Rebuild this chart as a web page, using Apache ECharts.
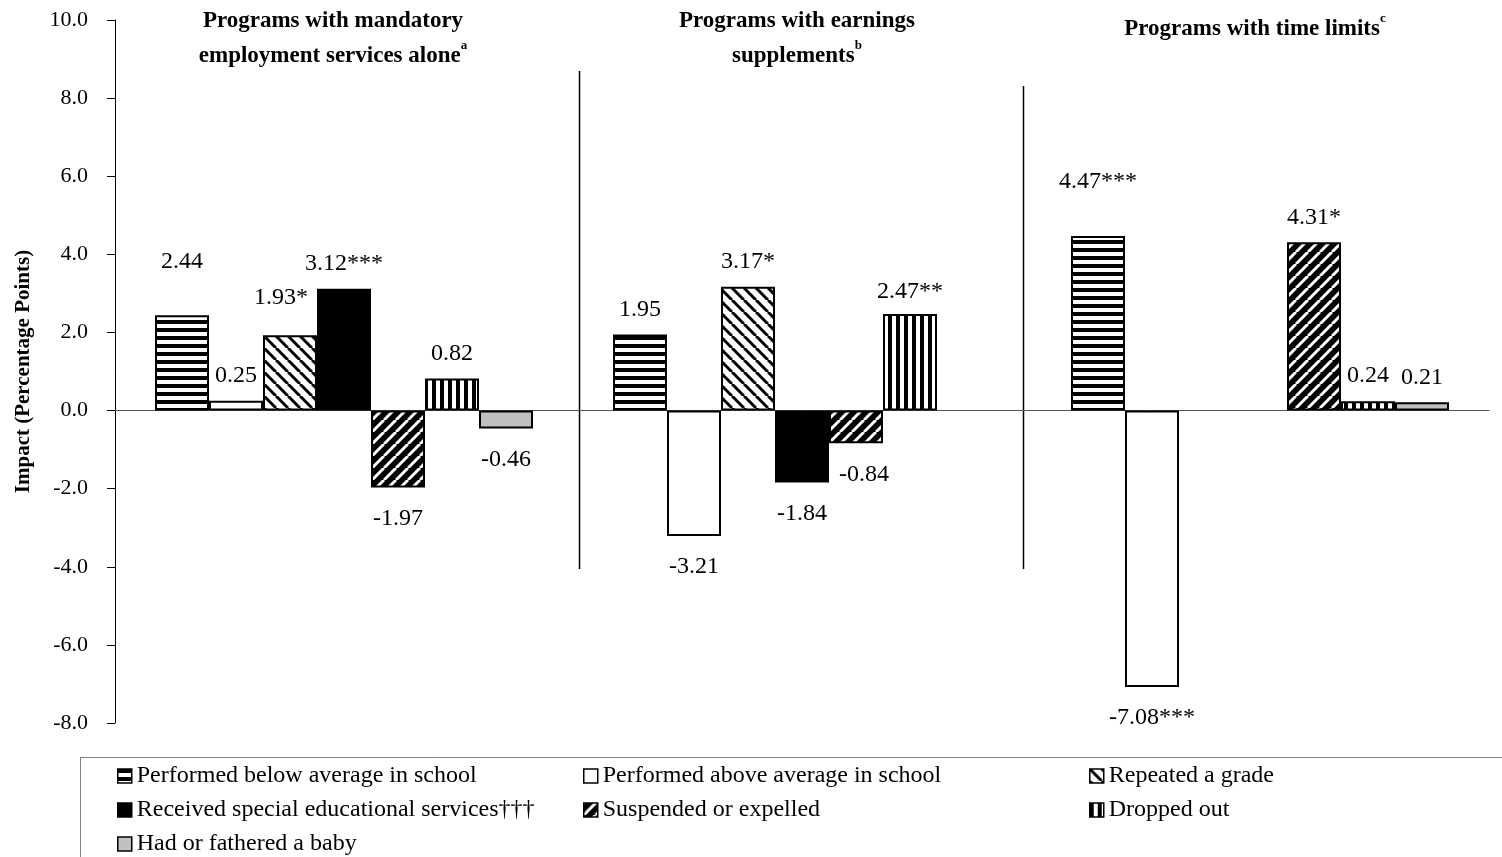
<!DOCTYPE html>
<html>
<head>
<meta charset="utf-8">
<script src="https://cdn.jsdelivr.net/npm/echarts@6/dist/echarts.min.js"></script>
<style>
html,body{margin:0;padding:0;background:#fff;}
#chart{width:1502px;height:857px;}
</style>
</head>
<body>
<div id="chart"></div>
<script>
// ---- data ----
const groups = ['Mandatory employment services alone', 'Earnings supplements', 'Time limits'];
const seriesNames = [
  'Performed below average in school',
  'Performed above average in school',
  'Repeated a grade',
  'Received special educational services\u2020\u2020\u2020',
  'Suspended or expelled',
  'Dropped out',
  'Had or fathered a baby'
];
const belowAvg   = [2.44, 1.95, 4.47];
const aboveAvg   = [0.25, -3.21, -7.08];
const repeated   = [1.93, 3.17, null];
const special    = [3.12, -1.84, null];
const suspended  = [-1.97, -0.84, 4.31];
const droppedOut = [0.82, 2.47, 0.24];
const baby       = [-0.46, null, 0.21];

const belowSig     = ['', '', '***'];
const aboveSig     = ['', '', '***'];
const repeatedSig  = ['*', '*', ''];
const specialSig   = ['***', '', ''];
const suspendedSig = ['', '', '*'];
const droppedSig   = ['', '**', ''];
const babySig      = ['', '', ''];

const yTicks = [-8, -6, -4, -2, 0, 2, 4, 6, 8, 10];

// ---- patterns ----
function mk(w, h, draw) {
  const c = document.createElement('canvas');
  c.width = w; c.height = h;
  const g = c.getContext('2d');
  draw(g, w, h);
  return {image: c, repeat: 'repeat'};
}
const pHoriz = mk(8, 8, (g) => { g.fillStyle = '#fff'; g.fillRect(0,0,8,8); g.fillStyle = '#000'; g.fillRect(0,0,8,4); });
const pVert = mk(8, 8, (g) => { g.fillStyle = '#fff'; g.fillRect(0,0,8,8); g.fillStyle = '#000'; g.fillRect(0,0,4,8); });
const pBack = mk(12, 12, (g) => {
  g.fillStyle = '#fff'; g.fillRect(0,0,12,12);
  g.strokeStyle = '#000'; g.lineWidth = 3;
  for (let o = -12; o <= 12; o += 12) { g.beginPath(); g.moveTo(o, 0); g.lineTo(o + 12, 12); g.stroke(); }
});
const pFwd = mk(12, 12, (g) => {
  g.fillStyle = '#000'; g.fillRect(0,0,12,12);
  g.strokeStyle = '#fff'; g.lineWidth = 3;
  for (let o = -12; o <= 12; o += 12) { g.beginPath(); g.moveTo(o, 12); g.lineTo(o + 12, 0); g.stroke(); }
});
const fills = [pHoriz, '#ffffff', pBack, '#000000', pFwd, pVert, '#c0c0c0'];
const values = [belowAvg, aboveAvg, repeated, special, suspended, droppedOut, baby];
const sigs = [belowSig, aboveSig, repeatedSig, specialSig, suspendedSig, droppedSig, babySig];

// label placement tweaks (distance from bar end), keyed "series-group"
const labelDist = {'0-0': 42, '2-0': 25, '0-2': 42, '5-1': 10};
const labelOffset = {'4-1': [8, 0], '2-0': [-9, 0]};

const FONT = '"Times New Roman", "Liberation Serif", serif';

const series = values.map((arr, si) => ({
  name: seriesNames[si],
  type: 'bar',
  barWidth: 54,
  barGap: '0%',
  itemStyle: {color: fills[si], borderColor: '#000', borderWidth: 2},
  emphasis: {disabled: true},
  data: arr.map((v, gi) => {
    if (v === null) return null;
    const key = si + '-' + gi;
    return {
      value: v,
      label: {
        show: true,
        position: v >= 0 ? 'top' : 'bottom',
        distance: labelDist[key] !== undefined ? labelDist[key] : (v >= 0 ? 13 : 19),
        offset: labelOffset[key] || [0, 0],
        formatter: v.toFixed(2) + sigs[si][gi],
        color: '#000',
        fontFamily: FONT,
        fontSize: 24
      }
    };
  })
}));

const legendCols = [[0, 3, 6], [1, 4], [2, 5]];
const legendLeft = [117, 583, 1089];
const legends = legendCols.map((col, i) => ({
  orient: 'vertical',
  left: legendLeft[i],
  top: 764,
  padding: 0,
  itemWidth: 14,
  itemHeight: 14,
  itemGap: 10,
  icon: 'rect',
  selectedMode: false,
  itemStyle: {borderWidth: 1.5, borderColor: '#000'},
  textStyle: {fontFamily: FONT, fontSize: 24, color: '#000'},
  data: col.map(k => seriesNames[k])
}));

const titleRich = {
  b: {fontFamily: FONT, fontWeight: 'bold', fontSize: 23, lineHeight: 35, color: '#000'},
  s: {fontFamily: FONT, fontWeight: 'bold', fontSize: 13, lineHeight: 19, verticalAlign: 'top', color: '#000'}
};

const chart = echarts.init(document.getElementById('chart'), null, {renderer: 'canvas'});
chart.setOption({
  backgroundColor: '#fff',
  animation: false,
  grid: {left: 115, right: 13, top: 20, bottom: 134, containLabel: false},
  xAxis: {
    type: 'category',
    data: groups,
    axisLine: {onZero: true, lineStyle: {color: '#555', width: 1}},
    axisTick: {show: false},
    axisLabel: {show: false},
    splitLine: {show: false}
  },
  yAxis: {
    type: 'value',
    min: yTicks[0],
    max: yTicks[yTicks.length - 1],
    interval: 2,
    name: 'Impact (Percentage Points)',
    nameLocation: 'middle',
    nameGap: 81,
    nameRotate: 90,
    nameTextStyle: {fontFamily: FONT, fontWeight: 'bold', fontSize: 21, color: '#000'},
    axisLine: {show: true, lineStyle: {color: '#000', width: 1}},
    axisTick: {show: true, inside: false, length: 8, lineStyle: {color: '#000'}},
    axisLabel: {margin: 27, fontFamily: FONT, fontSize: 22, color: '#000', formatter: v => v.toFixed(1)},
    splitLine: {show: false}
  },
  legend: legends,
  series: series,
  graphic: [
    {type: 'text', x: 333, y: 4, style: {text: '{b|Programs with mandatory}\n{b|employment services alone}{s|a}', rich: titleRich, align: 'center', textAlign: 'center'}},
    {type: 'text', x: 797, y: 4, style: {text: '{b|Programs with earnings}\n{b|supplements}{s|b}', rich: titleRich, align: 'center', textAlign: 'center'}},
    {type: 'text', x: 1255, y: 12, style: {text: '{b|Programs with time limits}{s|c}', rich: titleRich, align: 'center', textAlign: 'center'}},
    {type: 'line', shape: {x1: 579.5, y1: 71, x2: 579.5, y2: 569}, style: {stroke: '#000', lineWidth: 1.5}},
    {type: 'line', shape: {x1: 1023.5, y1: 86, x2: 1023.5, y2: 569}, style: {stroke: '#000', lineWidth: 1.5}},
    {type: 'line', shape: {x1: 80, y1: 757.5, x2: 1502, y2: 757.5}, style: {stroke: '#808080', lineWidth: 1}},
    {type: 'line', shape: {x1: 80.5, y1: 757, x2: 80.5, y2: 857}, style: {stroke: '#808080', lineWidth: 1}}
  ]
});
</script>
</body>
</html>
